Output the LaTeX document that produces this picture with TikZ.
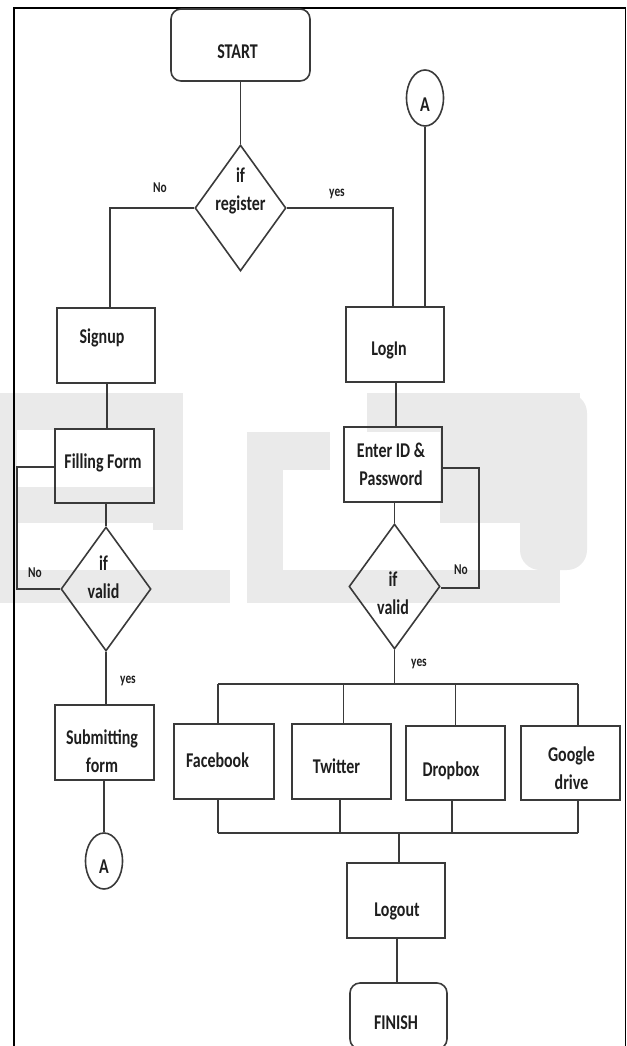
\documentclass[tikz,border=0pt]{standalone}
\usepackage{fontspec}
\usetikzlibrary{shapes.geometric}
\newfontfamily\dfont{Carlito}[FakeStretch=0.76]
\newcommand\mytxt[3]{\raisebox{#2pt}[0pt][0pt]{\makebox[0pt]{\hspace*{#1pt}\hspace*{#1pt}\begin{tabular}{@{}c@{}}#3\end{tabular}}}}
\definecolor{lnc}{HTML}{3A3A3A}
\definecolor{txc}{HTML}{1E1E1E}
\definecolor{wmc}{HTML}{EAEAEA}
\tikzset{
  conn/.style={draw=lnc, line width=1.6pt},
  boxnode/.style={draw=lnc, line width=1.6pt, rectangle, inner sep=0pt, minimum width=98pt, minimum height=75pt, text=txc, font=\dfont\bfseries\fontsize{21}{28}\selectfont},
  termnode/.style={boxnode, rounded corners=10pt},
  decnode/.style={draw=lnc, line width=1.6pt, diamond, inner sep=0pt, aspect=0.72, minimum width=91pt, minimum height=125pt, text=txc, font=\dfont\bfseries\fontsize{21}{28}\selectfont},
  connnode/.style={draw=lnc, line width=1.6pt, ellipse, inner sep=0pt, minimum width=37pt, minimum height=56pt, text=txc, font=\dfont\bfseries\fontsize{21}{28}\selectfont},
  lbl/.style={text=txc, inner sep=0pt, font=\dfont\bfseries\fontsize{15}{18}\selectfont},
  wm/.style={fill=wmc, draw=none}
}
\begin{document}
\begin{tikzpicture}[x=1pt,y=-1pt]
\useasboundingbox (0,0) rectangle (626,1046);
% watermark
\fill[wm] (0,393) rectangle (17,603);
\fill[wm] (17,393) rectangle (183,430);
\fill[wm] (153,430) rectangle (183,530);
\fill[wm] (17,487) rectangle (153,523);
\fill[wm] (0,570) rectangle (230,603);
\fill[wm] (247,432) rectangle (330,470);
\fill[wm] (247,470) rectangle (283,570);
\fill[wm] (247,570) rectangle (560,603);
\fill[wm] (367,393) rectangle (580,432);
\fill[wm] (440,432) rectangle (540,523);
\fill[wm, rounded corners=20pt] (520,393) -- (587,393) -- (587,570) -- (520,570) -- cycle;
% frame
\draw[black, line width=2.3pt] (14,1047) -- (14,7);
\draw[black, line width=1.5pt] (13,8) -- (625.3,8) -- (625.3,1047);
% nodes
\node[termnode, minimum width=139pt, minimum height=72pt] (start) at (240.5,45) {\mytxt{-3}{-13.5}{START}};
\node[decnode, minimum height=126pt] (dreg) at (240.5,208) {\mytxt{0}{11.5}{if\\register}};
\node[connnode] (atop) at (425,98) {\mytxt{0}{-13.5}{A}};
\node[boxnode] (signup) at (106,345.5) {\mytxt{-4}{2}{Signup}};
\node[boxnode] (login) at (395,344.5) {\mytxt{-6}{-11}{LogIn}};
\node[boxnode, minimum width=99pt, minimum height=74pt] (fill) at (104.5,466) {\mytxt{-1.5}{-2.5}{Filling Form}};
\node[boxnode] (enter) at (393,464.5) {\mytxt{-2}{-6.5}{Enter ID \&\\Password}};
\node[decnode, minimum width=90pt, minimum height=124pt] (dv1) at (106,589) {\mytxt{-2.5}{5}{if\\valid}};
\node[decnode] (dv2) at (394.5,586.5) {\mytxt{-1.5}{-13.5}{if\\valid}};
\node[boxnode, minimum width=99pt] (submit) at (104.5,742.5) {\mytxt{-2.5}{-15.5}{Submitting\\form}};
\node[connnode] (abot) at (104,861) {\mytxt{0}{-12}{A}};
\node[boxnode, minimum width=100pt] (fb) at (224,761.5) {\mytxt{-6.5}{-6}{Facebook}};
\node[boxnode, minimum width=99pt] (tw) at (341.5,761.5) {\mytxt{-5}{-12}{Twitter}};
\node[boxnode, minimum width=99pt, minimum height=74pt] (db) at (455.5,763) {\mytxt{-4.5}{-13.5}{Dropbox}};
\node[boxnode, minimum width=99pt, minimum height=74pt] (gd) at (570.5,763) {\mytxt{1}{-12.5}{Google\\drive}};
\node[boxnode] (logout) at (396,900.5) {\mytxt{1}{-16}{Logout}};
\node[termnode, minimum width=97pt, minimum height=66pt] (finish) at (398.5,1016) {\mytxt{-2.5}{-13.5}{FINISH}};
% labels
\node[lbl] (lno1) at (160,188) {No};
\node[lbl] (lyes1) at (337,194) {yes};
\node[lbl] (lno2) at (35,573) {No};
\node[lbl] (lyes2) at (128,681) {yes};
\node[lbl] (lno3) at (461,570) {No};
\node[lbl] (lyes3) at (419,664) {yes};
% bus coordinates
\coordinate (busL) at (218,684);
\coordinate (busR) at (578,684);
\coordinate (busL2) at (218,833);
\coordinate (busR2) at (578,833);
% connectors
\draw[conn] (start) -- (dreg);
\draw[conn] (dreg.west) -| ([xshift=4pt]signup.north);
\draw[conn] (dreg.east) -| ([xshift=-2pt]login.north);
\draw[conn] (atop.south) -- (atop.south |- login.north);
\draw[conn] ([xshift=1pt]signup.south) -- ([xshift=1pt]signup.south |- fill.north);
\draw[conn] ([yshift=-1pt]fill.west) -- ++(-37,0) |- (dv1.west);
\draw[conn] (dv1.north |- fill.south) -- (dv1.north);
\draw[conn] (dv1.south) -- (dv1.south |- submit.north);
\draw[conn] (abot.north |- submit.south) -- (abot.north);
\draw[conn] ([xshift=1pt]login.south) -- ([xshift=1pt]login.south |- enter.north);
\draw[conn] ([yshift=-3.5pt]enter.east) -- ++(36,0) |- ([yshift=-1.5pt]dv2.east);
\draw[conn] (dv2.north |- enter.south) -- (dv2.north);
\draw[conn] (dv2.south) -- (dv2.south |- busL);
\draw[conn] (busL) -- (busR);
\draw[conn] (busL) -- (busL |- fb.north);
\draw[conn] ([xshift=2pt]tw.north |- busL) -- ([xshift=2pt]tw.north);
\draw[conn] (db.north |- busL) -- (db.north);
\draw[conn] (busR) -- (busR |- gd.north);
\draw[conn] (busL2) -- (busR2);
\draw[conn] (busL2) -- (busL2 |- fb.south);
\draw[conn] ([xshift=-1.5pt]tw.south) -- ([xshift=-1.5pt]tw.south |- busL2);
\draw[conn] ([xshift=-3.5pt]db.south) -- ([xshift=-3.5pt]db.south |- busL2);
\draw[conn] (busR2) -- (busR2 |- gd.south);
\draw[conn] ([xshift=3pt]logout.north |- busL2) -- ([xshift=3pt]logout.north);
\draw[conn] ([xshift=1pt]logout.south) -- ([xshift=1pt]logout.south |- finish.north);
\end{tikzpicture}
\end{document}
